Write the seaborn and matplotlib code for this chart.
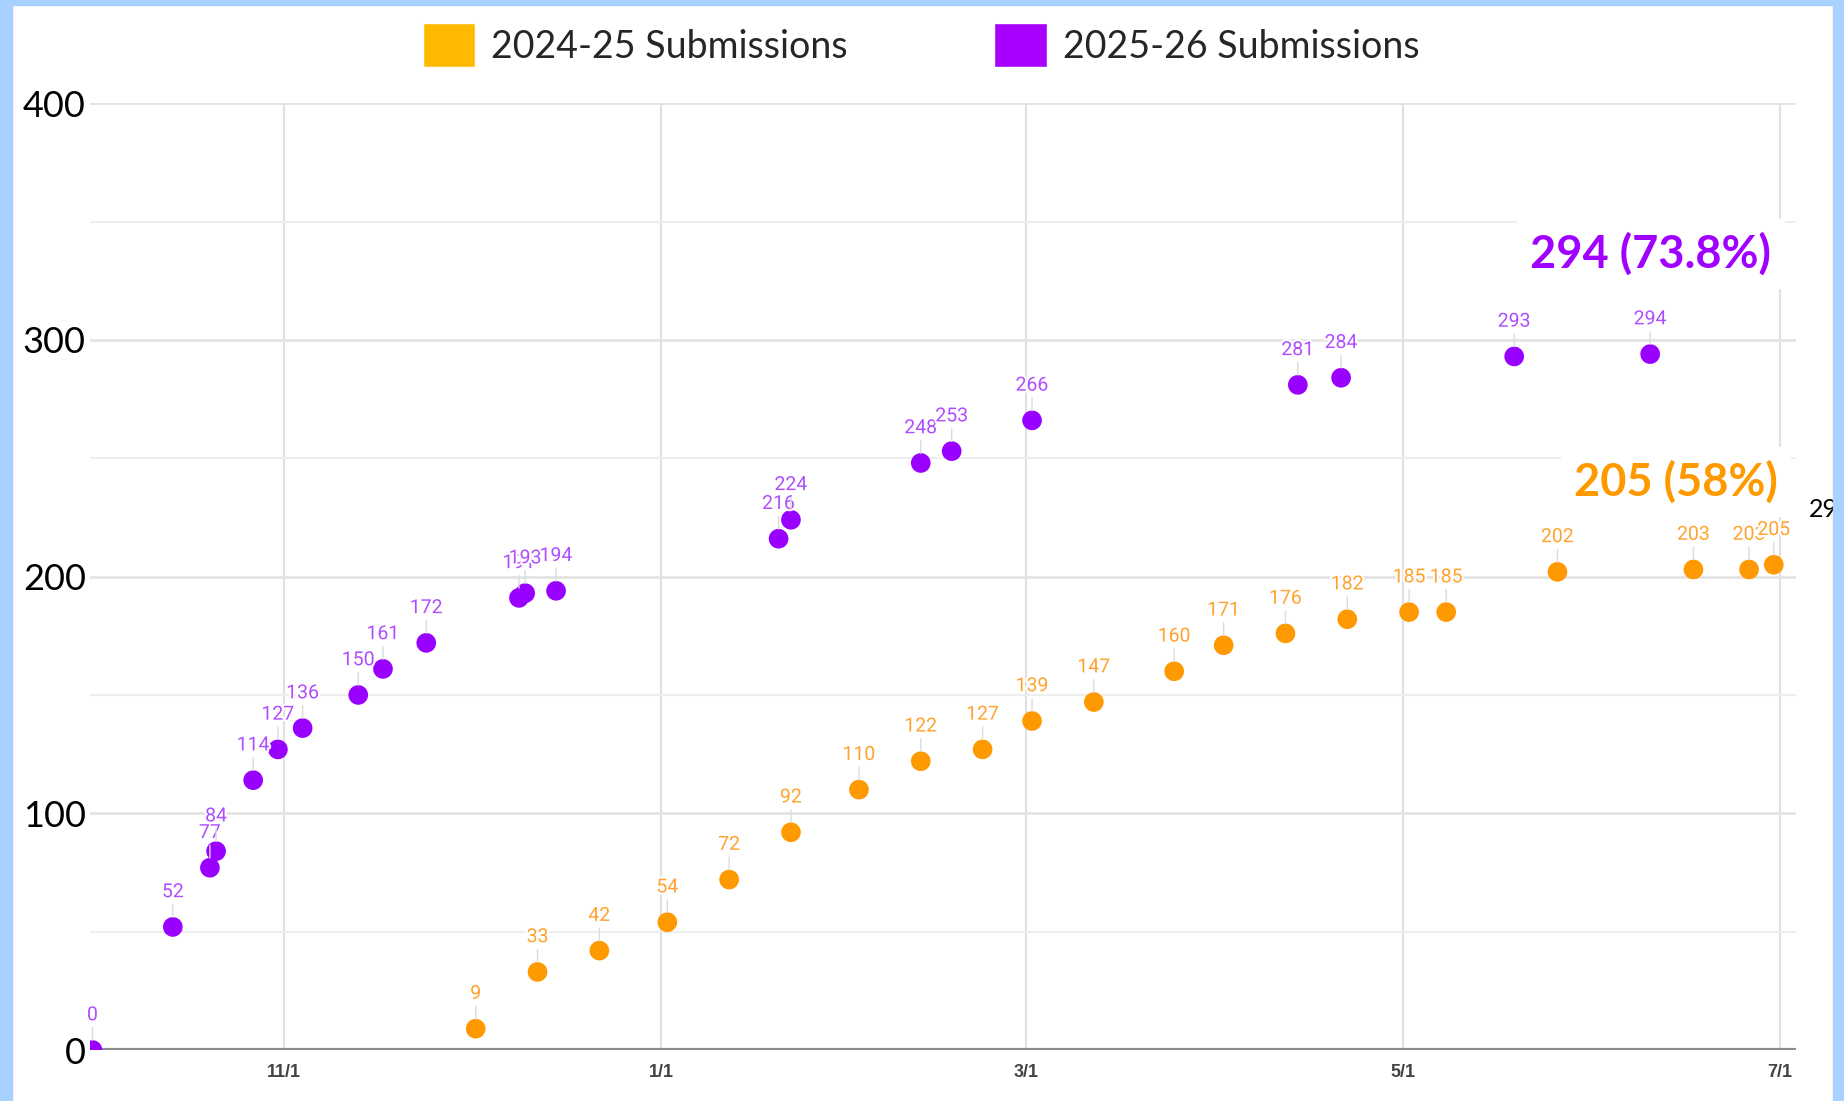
import pandas as pd
import seaborn as sns
import matplotlib.pyplot as plt
import matplotlib.patheffects as pe
from matplotlib.patches import Patch, Rectangle
from matplotlib.ticker import MultipleLocator

# 2025-26 submissions (purple)
dates_2526 = ['10/1', '10/14', '10/20', '10/21', '10/27', '10/31', '11/4', '11/13', '11/17',
              '11/24', '12/9', '12/10', '12/15', '1/20', '1/22', '2/12', '2/17', '3/2',
              '4/14', '4/21', '5/19', '6/10']
subs_2526 = [0, 52, 77, 84, 114, 127, 136, 150, 161, 172, 191, 193, 194, 216, 224, 248, 253,
             266, 281, 284, 293, 294]

# 2024-25 submissions (orange), plotted on the same month/day axis
dates_2425 = ['12/2', '12/12', '12/22', '1/2', '1/12', '1/22', '2/2', '2/12', '2/22', '3/2',
              '3/12', '3/25', '4/2', '4/12', '4/22', '5/2', '5/8', '5/26', '6/17', '6/26', '6/30']
subs_2425 = [9, 33, 42, 54, 72, 92, 110, 122, 127, 139, 147, 160, 171, 176, 182, 185, 185,
             202, 203, 203, 205]

tick_dates = ['11/1', '1/1', '3/1', '5/1', '7/1']
series_labels = ['2024-25 Submissions', '2025-26 Submissions']


def season_date(md):
    m, d = map(int, md.split('/'))
    return pd.Timestamp(2025 if m >= 8 else 2026, m, d)


df = pd.concat([
    pd.DataFrame({'date': [season_date(d) for d in dates_2425], 'subs': subs_2425, 'season': '2024-25'}),
    pd.DataFrame({'date': [season_date(d) for d in dates_2526], 'subs': subs_2526, 'season': '2025-26'}),
])

sns.set_style('white')
plt.rcParams['font.family'] = ['Lato', 'DejaVu Sans']

fig = plt.figure(figsize=(18.44, 11.01), dpi=100)
ax = fig.add_axes([0.0488, 0.0463, 0.9252, 0.860])

dot_colors = {'2024-25': '#ff9900', '2025-26': '#9900ff'}
label_colors = {'2024-25': '#ffa22e', '2025-26': '#b04dff'}

sns.scatterplot(data=df, x='date', y='subs', hue='season', palette=dot_colors, s=200,
                linewidth=0, legend=False, ax=ax, zorder=3)

# value labels with thin leader lines
for _, row in df.iterrows():
    ax.annotate(str(row['subs']), (row['date'], row['subs']), xytext=(0, 25),
                textcoords='offset points', ha='center', va='center', fontsize=14,
                family='Roboto', color=label_colors[row['season']], zorder=4,
                path_effects=[pe.withStroke(linewidth=3, foreground='white')],
                arrowprops=dict(arrowstyle='-', color='#dcdcdc', lw=1, shrinkA=0, shrinkB=7))

ax.set_ylim(0, 400)
ax.set_xlim(season_date('10/1') - pd.Timedelta(days=0.4), season_date('7/3') + pd.Timedelta(days=0.6))
ax.yaxis.set_major_locator(MultipleLocator(100))
ax.yaxis.set_minor_locator(MultipleLocator(50))
ax.set_xticks([season_date(t) for t in tick_dates])
ax.set_xticklabels(tick_dates, family='Liberation Sans', fontweight='bold', fontsize=13,
                   color='#444444')
ax.tick_params(axis='y', which='both', length=0, pad=3, labelsize=26, labelcolor='black')
ax.tick_params(axis='x', length=0, pad=10)
ax.grid(which='major', axis='y', color='#e3e3e3', lw=2)
ax.grid(which='minor', axis='y', color='#eeeeee', lw=1.5)
ax.grid(which='major', axis='x', color='#e0e0e0', lw=1.5)
ax.axhline(0, color='#8c8c8c', lw=3, zorder=2)
for s in ax.spines.values():
    s.set_visible(False)
ax.set_xlabel('')
ax.set_ylabel('')

handles = [Patch(facecolor='#ffba00', label=series_labels[0]),
           Patch(facecolor='#a800ff', label=series_labels[1])]
fig.legend(handles=handles, loc='center', bbox_to_anchor=(0.4995, 0.959), ncol=2,
           frameon=False, prop={'family': 'Lato', 'size': 27}, handlelength=1.4,
           handleheight=1.4, handletextpad=0.43, columnspacing=3.9)

fig.text(0.8953, 0.7693, '294 (73.8%)', ha='center', va='center', fontsize=32.5,
         fontweight='bold', color='#a000ff',
         bbox=dict(boxstyle='square,pad=0.3', facecolor='white', edgecolor='none'))
fig.text(0.9089, 0.5622, '205 (58%)', ha='center', va='center', fontsize=32.5,
         fontweight='bold', color='#ff9900',
         bbox=dict(boxstyle='square,pad=0.3', facecolor='white', edgecolor='none'))
fig.text(0.9808, 0.5368, '29', ha='left', va='center', fontsize=18, color='black')

# light blue frame around the slide
frame = '#a9d1ff'
fig.add_artist(Rectangle((0, 0), 12 / 1844, 1, transform=fig.transFigure, color=frame, zorder=10))
fig.add_artist(Rectangle((1833 / 1844, 0), 11 / 1844, 1, transform=fig.transFigure, color=frame, zorder=10))
fig.add_artist(Rectangle((0, 1 - 5 / 1101), 1, 5 / 1101, transform=fig.transFigure, color=frame, zorder=10))

fig.savefig('out.png', dpi=100)
